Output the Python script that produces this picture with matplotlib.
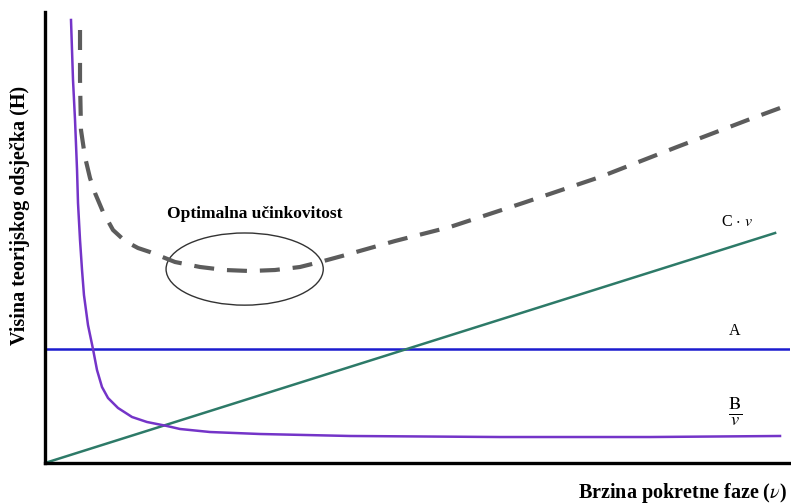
#!/usr/bin/env python3
"""
van Deemter plot: plate height H vs mobile-phase velocity v,
with the A, B/v and C*v terms and their (dashed) sum.
Saves out.png
"""

import matplotlib.pyplot as plt
from matplotlib.patches import Ellipse

# A term (constant)
A_level = 2.53

# C*v term (straight line through origin)
cv_x = [0.0, 9.80]
cv_y = [0.0, 5.10]

# B/v term
bv_x = [0.349, 0.376, 0.403, 0.430, 0.443, 0.470, 0.497, 0.523, 0.577,
        0.644, 0.698, 0.765, 0.846, 0.980, 1.168, 1.369, 1.638, 1.812,
        2.215, 2.886, 4.094, 6.107, 8.121, 9.866]
bv_y = [9.823, 8.492, 7.605, 6.497, 5.765, 4.945, 4.279, 3.725, 3.060,
        2.528, 2.062, 1.685, 1.441, 1.220, 1.020, 0.909, 0.820, 0.754,
        0.687, 0.643, 0.599, 0.576, 0.576, 0.599]

# total H (dashed curve)
h_x = [0.470, 0.470, 0.483, 0.537, 0.604, 0.671, 0.779, 0.913, 1.074,
       1.248, 1.409, 1.745, 2.081, 2.416, 2.752, 3.087, 3.423, 3.691,
       3.987, 4.698, 5.436, 6.416, 7.450, 8.483, 9.503, 9.866]
h_y = [9.601, 8.492, 7.384, 6.785, 6.319, 5.987, 5.565, 5.166, 4.922,
       4.767, 4.678, 4.457, 4.346, 4.279, 4.257, 4.279, 4.346, 4.457,
       4.590, 4.922, 5.233, 5.765, 6.341, 7.007, 7.650, 7.871]

# optimum region (ellipse centre / size in data units)
opt_center = (2.68, 4.30)
opt_size = (2.11, 1.60)

serif = ['Liberation Serif', 'DejaVu Serif']
plt.rcParams['mathtext.fontset'] = 'stix'


def main():
    fig = plt.figure(figsize=(7.91, 5.04), dpi=100)
    ax = fig.add_axes([45 / 791, 41 / 504, 745 / 791, 451 / 504])

    ax.plot(h_x, h_y, color='#5c5c5c', lw=3.0, dashes=(4.8, 3.1),
            dash_capstyle='butt', dash_joinstyle='round')
    ax.axhline(A_level, color='#1c1ccf', lw=1.8)
    ax.plot(cv_x, cv_y, color='#2d7a68', lw=1.8)
    ax.plot(bv_x, bv_y, color='#7434c8', lw=1.8, solid_joinstyle='round')

    ax.add_patch(Ellipse(opt_center, opt_size[0], opt_size[1], fill=False,
                         edgecolor='#333333', lw=1.0))
    ax.text(2.82, 5.51, 'Optimalna učinkovitost', family=serif,
            fontweight='bold', fontsize=12.5, ha='center', va='center')

    ax.text(9.29, 5.34, r'C $\cdot$ $v$', family=serif, fontsize=11.5,
            ha='center', va='center')
    ax.text(9.26, 2.92, 'A', family=serif, fontsize=11.5,
            ha='center', va='center')
    ax.text(9.26, 1.13, r'$\frac{\mathrm{B}}{v}$', fontsize=19,
            ha='center', va='center')

    ax.set_xlim(0, 10)
    ax.set_ylim(0, 10)
    ax.set_xticks([])
    ax.set_yticks([])
    for side in ['top', 'right']:
        ax.spines[side].set_visible(False)
    for side in ['left', 'bottom']:
        ax.spines[side].set_linewidth(2.4)

    fig.text(20 / 791, 1 - 215 / 504, 'Visina teorijskog odsječka (H)',
             family=serif, fontweight='bold', fontsize=14.5, rotation=90,
             ha='center', va='center')
    fig.text(787 / 791, 1 - 493 / 504, r'Brzina pokretne faze ($\nu$)',
             family=serif, fontweight='bold', fontsize=14.5,
             ha='right', va='center')

    fig.savefig('out.png', dpi=100)
    plt.close(fig)


if __name__ == '__main__':
    main()
